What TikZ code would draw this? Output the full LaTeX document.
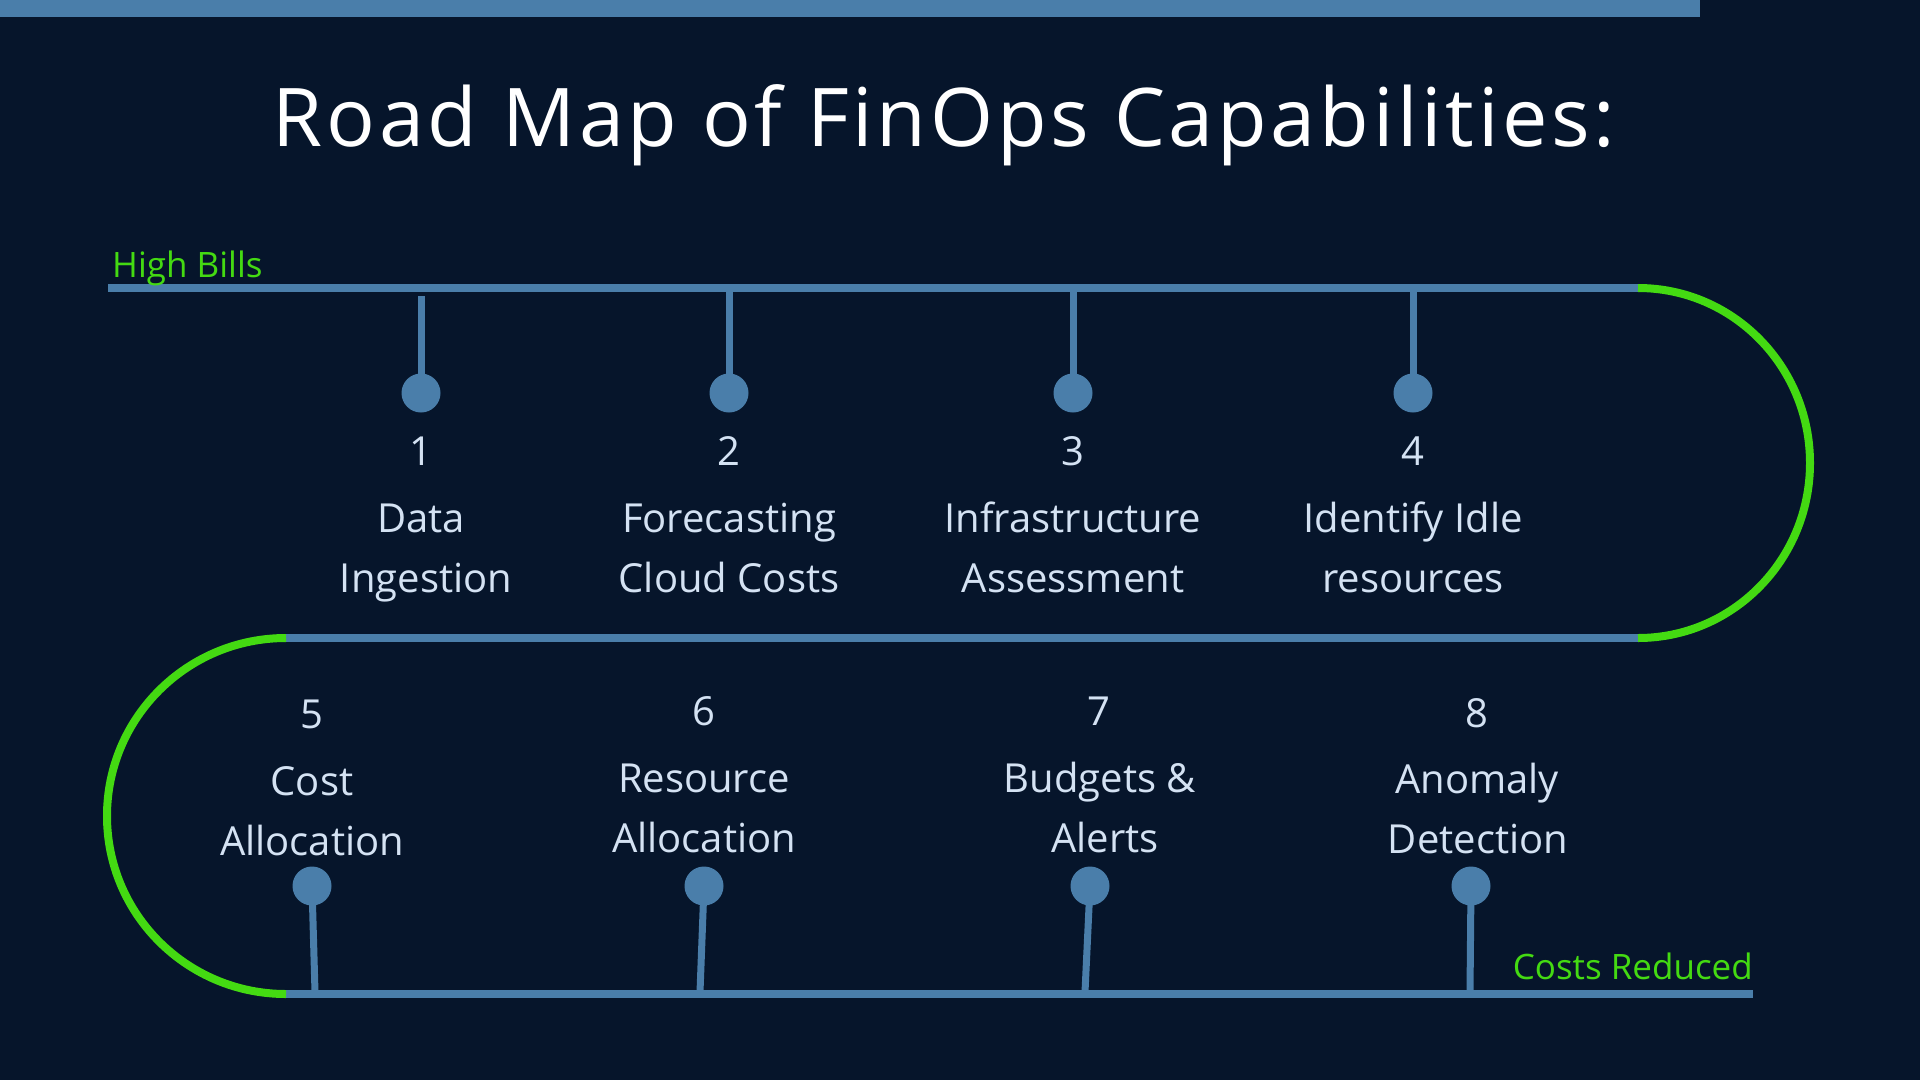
\documentclass[tikz,border=0pt]{standalone}
\usepackage{fontspec}
\setmainfont{Open Sans}
\newfontfamily\titlefont[LetterSpace=4.6]{Open Sans}
\definecolor{bgnavy}{HTML}{06152B}
\definecolor{steel}{HTML}{4A7EAA}
\definecolor{lime}{HTML}{44DA12}
\definecolor{pale}{HTML}{D4E2F3}
\tikzset{
  track/.style={draw=steel, line width=7.5pt},
  greenarc/.style={draw=lime, line width=8pt},
  stem/.style={draw=steel, line width=7pt},
  dot/.style={circle, fill=steel, inner sep=0pt, minimum size=39pt},
  lbl/.style={text=pale, font=\fontsize{40}{48}\selectfont, anchor=base, inner sep=0pt},
  tag/.style={text=lime, font=\fontsize{35}{40}\selectfont, anchor=base, inner sep=0pt},
}
\begin{document}
\begin{tikzpicture}[x=1pt, y=-1pt]
\fill[bgnavy] (0,0) rectangle (1920,1080);
\useasboundingbox (0,0) rectangle (1920,1080);
\fill[steel] (0,0) rectangle (1700,17);
% title
\node[text=white, font=\titlefont\fontsize{81}{90}\selectfont, anchor=base, inner sep=0pt] (title) at (944,146) {Road Map of FinOps Capabilities:};
% track coordinates
\coordinate (tl) at (108,288);
\coordinate (tr) at (1638,288);
\coordinate (ml) at (286,638);
\coordinate (mr) at (1638,638);
\coordinate (bl) at (286,994);
\coordinate (br) at (1753,994);
\draw[track] (tl) -- (tr);
\draw[track] (ml) -- (mr);
\draw[track] (bl) -- (br);
\draw[greenarc] (tr) arc[start angle=90, end angle=-90, x radius=172pt, y radius=175pt];
\draw[greenarc] (ml) arc[start angle=90, end angle=270, x radius=179pt, y radius=178pt];
% end labels
\node[tag, anchor=base west] (high) at (112,277) {High Bills};
\node[tag, anchor=base east] (low) at (1753,979) {Costs Reduced};
% top stems
\coordinate (t1) at (421,296);
\coordinate (t2) at (729,290);
\coordinate (t3) at (1073,290);
\coordinate (t4) at (1413,290);
\node[dot] (d1) at (421,393) {};
\node[dot] (d2) at (729,393) {};
\node[dot] (d3) at (1073,393) {};
\node[dot] (d4) at (1413,393) {};
\foreach \i in {1,2,3,4} \draw[stem] (t\i) -- (d\i.center);
% bottom stems
\coordinate (b5) at (315,992);
\coordinate (b6) at (700,992);
\coordinate (b7) at (1085,992);
\coordinate (b8) at (1470,992);
\node[dot] (d5) at (312,886) {};
\node[dot] (d6) at (704,886) {};
\node[dot] (d7) at (1090,886) {};
\node[dot] (d8) at (1471,886) {};
\foreach \i in {5,6,7,8} \draw[stem] (d\i.center) -- (b\i);
% top labels
\node[lbl] (n1) at (421,465) {1};
\node[lbl] (a1) at (421,532) {Data};
\node[lbl] (c1) at (426,592) {Ingestion};
\node[lbl] (n2) at (729,465) {2};
\node[lbl] (a2) at (729,532) {Forecasting};
\node[lbl] (c2) at (729,592) {Cloud Costs};
\node[lbl] (n3) at (1073,465) {3};
\node[lbl] (a3) at (1073,532) {Infrastructure};
\node[lbl] (c3) at (1073,592) {Assessment};
\node[lbl] (n4) at (1413,465) {4};
\node[lbl] (a4) at (1413,532) {Identify Idle};
\node[lbl] (c4) at (1413,592) {resources};
% bottom labels
\node[lbl] (n5) at (312,728) {5};
\node[lbl] (a5) at (312,795) {Cost};
\node[lbl] (c5) at (312,855) {Allocation};
\node[lbl] (n6) at (704,725) {6};
\node[lbl] (a6) at (704,792) {Resource};
\node[lbl] (c6) at (704,852) {Allocation};
\node[lbl] (n7) at (1099,725) {7};
\node[lbl] (a7) at (1100,792) {Budgets \&};
\node[lbl] (c7) at (1105,852) {Alerts};
\node[lbl] (n8) at (1477,727) {8};
\node[lbl] (a8) at (1477,793) {Anomaly};
\node[lbl] (c8) at (1478,853) {Detection};
\end{tikzpicture}
\end{document}
